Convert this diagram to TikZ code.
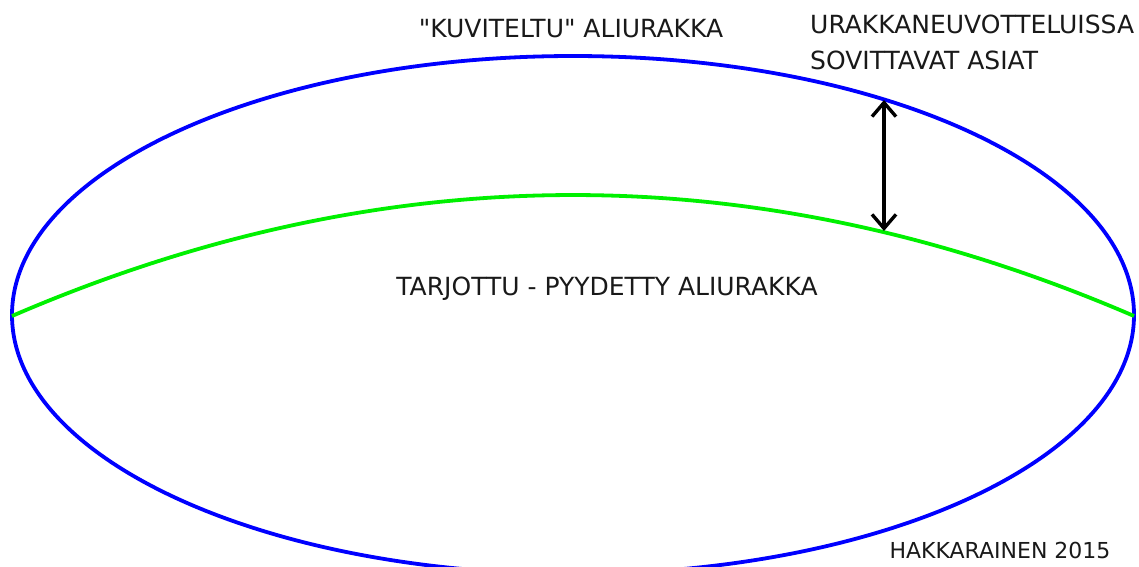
\documentclass[tikz,border=0pt]{standalone}
\usepackage{fontspec}
\setmainfont{DejaVu Sans}[Ligatures=TeXOff]
\usetikzlibrary{arrows.meta}
\definecolor{outerblue}{RGB}{0,0,255}
\definecolor{innergreen}{RGB}{0,240,0}
\begin{document}
\begin{tikzpicture}[x=1pt,y=-1pt,
  lbl/.style={inner sep=0pt,text=black!90,font=\fontsize{25}{36}\selectfont},
  sig/.style={inner sep=0pt,text=black!90,font=\fontsize{22}{26}\selectfont},
  rim/.style={draw=outerblue,line width=3.8pt},
  split/.style={draw=innergreen,line width=3.8pt},
  gap/.style={draw=black,line width=3.4pt,{Straight Barb[length=14pt,width=24pt]}-{Straight Barb[length=14pt,width=24pt]}}]
\useasboundingbox (0,0) rectangle (1139,566);
% outer ellipse
\draw[rim] (573,315) ellipse [x radius=561, y radius=259];
% inner dividing curve (a parabola written as a cubic)
\coordinate (lend) at (12,316);
\coordinate (rend) at (1134,316);
\draw[split] (lend) .. controls (386,154.7) and (760,154.7) .. (rend);
% arrow between the two curves
\coordinate (atop) at (884,100);
\coordinate (abot) at (884,231);
\draw[gap] (atop) -- (abot);
% labels
\node[lbl,anchor=base] (imag) at (571,37) {"KUVITELTU" ALIURAKKA};
\node[lbl,anchor=base west] (neg1) at (810,33) {URAKKANEUVOTTELUISSA};
\node[lbl,anchor=base west] (neg2) at (810,69) {SOVITTAVAT ASIAT};
\node[lbl,anchor=base] (offer) at (607,295) {TARJOTTU - PYYDETTY ALIURAKKA};
\node[sig,anchor=base] (author) at (1000,558) {HAKKARAINEN 2015};
\end{tikzpicture}
\end{document}
